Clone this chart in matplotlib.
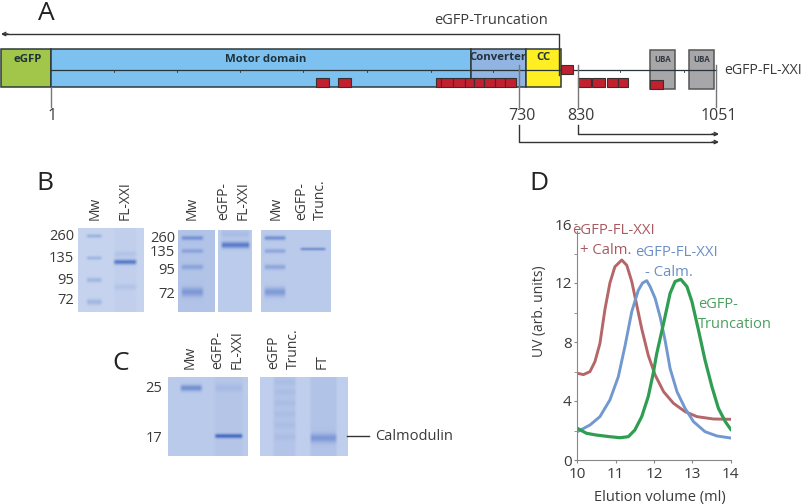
import matplotlib
matplotlib.use('Agg')
import matplotlib.pyplot as plt
from matplotlib.patches import Rectangle
import numpy as np

plt.rcParams['font.family'] = ['Open Sans', 'DejaVu Sans']

# Panel D
red_x = [10, 10.16, 10.33, 10.46, 10.59, 10.72, 10.85, 10.98, 11.16, 11.29, 11.42, 11.55, 11.68, 11.85, 12.03, 12.25, 12.51, 12.81, 13.12, 13.55, 14]
red_y = [5.88, 5.79, 5.99, 6.67, 7.9, 10.2, 12.0, 13.1, 13.56, 13.2, 12.1, 10.5, 8.9, 7.1, 5.76, 4.63, 3.84, 3.28, 2.94, 2.78, 2.76]
blue_x = [10, 10.33, 10.59, 10.85, 11.07, 11.24, 11.42, 11.59, 11.7, 11.81, 11.9, 12.03, 12.16, 12.29, 12.42, 12.6, 12.81, 13.03, 13.33, 13.64, 14]
blue_y = [1.92, 2.37, 2.94, 4.07, 5.65, 7.68, 10.06, 11.5, 12.0, 12.16, 11.75, 10.96, 9.7, 8.1, 6.2, 4.63, 3.5, 2.6, 1.92, 1.63, 1.49]
green_x = [10, 10.24, 10.5, 10.85, 11.11, 11.33, 11.5, 11.68, 11.85, 11.98, 12.07, 12.25, 12.42, 12.55, 12.7, 12.86, 12.99, 13.16, 13.33, 13.51, 13.68, 13.86, 14]
green_y = [2.15, 1.81, 1.69, 1.58, 1.51, 1.58, 2.03, 2.94, 4.3, 5.88, 7.2, 9.27, 11.3, 12.1, 12.25, 11.75, 10.73, 8.8, 6.78, 4.97, 3.5, 2.6, 2.08]
d_xticks = [10, 11, 12, 13, 14]
d_yticks = [0, 4, 8, 12, 16]
d_yminor = [2, 6, 10, 14]

# Panel A, in pixels
domain_names = ['eGFP', 'Motor domain', 'Converter', 'CC']
domain_edges = [1, 51, 471, 526, 561]
domain_colors = ['#a2c64a', '#7dc1f0', '#92b4e2', '#ffee22']
red_low = [316, 338, 436, 441, 453, 465, 474, 484, 495, 505, 578, 592, 607, 618]
red_low_w = [13, 13, 5, 12, 12, 9, 10, 11, 10, 11, 13, 13, 11, 10]
seq_ticks = [114, 177, 240, 303, 367, 431, 493, 620, 684]
residues = ['1', '730', '830', '1051']
residue_x = [51, 519, 578, 716]
uba_x = [650, 689]

# gels
mw_b1 = [236, 258, 280, 302]
mw_b2 = [238, 251, 267, 292]
mw_labels_b = ['260', '135', '95', '72']
b_label_y1 = [236, 258, 280, 300]
b_label_y2 = [238, 253, 270, 294]
mw_labels_c = ['25', '17']
c_label_y = [388, 438]

fig = plt.figure(figsize=(8.05, 5.04), dpi=100)
ax = fig.add_axes([0, 0, 1, 1])
ax.set_xlim(0, 805)
ax.set_ylim(504, 0)
ax.axis('off')

txt = '#3a3a3a'
edge = '#2e3a3a'

# A
for i, name in enumerate(domain_names):
    ax.add_patch(Rectangle((domain_edges[i], 48.5), domain_edges[i + 1] - domain_edges[i], 38.5,
                           fc=domain_colors[i], ec=edge, lw=1.1, zorder=2))
ax.text(28, 59, 'eGFP', fontsize=8.2, fontweight='bold', color='#20323a', ha='center', va='center', zorder=5)
ax.text(266, 59, 'Motor domain', fontsize=8.2, fontweight='bold', color='#20323a', ha='center', va='center', zorder=5)
ax.text(498, 57, 'Converter', fontsize=8.2, fontweight='bold', color='#20323a', ha='center', va='center', zorder=5)
ax.text(543, 57, 'CC', fontsize=8.2, fontweight='bold', color='#20323a', ha='center', va='center', zorder=5)

for x in uba_x:
    ax.add_patch(Rectangle((x, 50), 24.5, 39, fc='#a7a7a9', ec='#555555', lw=1.1, zorder=2))
    ax.text(x + 13, 59, 'UBA', fontsize=5.8, fontweight='bold', color='#303840', ha='center', va='center', zorder=5)

ax.plot([51, 716], [69.5, 69.5], color='#27343a', lw=0.9, zorder=3)
for x in seq_ticks:
    ax.plot([x, x], [69.5, 72], color='#27343a', lw=0.6, zorder=3)

for x, w in zip(red_low, red_low_w):
    ax.add_patch(Rectangle((x, 78), w, 9, fc='#c1202f', ec='#3a3030', lw=0.8, zorder=4))
ax.add_patch(Rectangle((561, 65), 12, 9, fc='#c1202f', ec='#3a3030', lw=0.8, zorder=4))
ax.add_patch(Rectangle((650, 80), 13, 9, fc='#c1202f', ec='#3a3030', lw=0.8, zorder=4))

for r, x in zip(residues, residue_x):
    ax.plot([x, x], [87 if r == '1' else 65, 107], color='#777777', lw=1, zorder=4)
    ax.text(x + (1 if r == '1' else 3), 116, r, fontsize=11.5, color=txt, ha='center', va='center')

# arrows
arrow = dict(arrowstyle='->', color='#333333', lw=1, shrinkA=0, shrinkB=0, mutation_scale=6)
ax.plot([559, 559, 3], [75, 34, 34], color='#333333', lw=1)
ax.annotate('', xy=(1, 34), xytext=(8, 34), arrowprops=arrow)
ax.plot([519, 519, 716], [125, 142, 142], color='#333333', lw=1)
ax.annotate('', xy=(719, 142), xytext=(712, 142), arrowprops=arrow)
ax.plot([578, 578, 716], [125, 134, 134], color='#333333', lw=1)
ax.annotate('', xy=(719, 134), xytext=(712, 134), arrowprops=arrow)
ax.text(491, 21, 'eGFP-Truncation', fontsize=10.5, color=txt, ha='center', va='center')
ax.text(724, 70, 'eGFP-FL-XXI', fontsize=10.2, color=txt, ha='left', va='center')

for letter, x, y in [('A', 46, 13), ('B', 45, 184), ('C', 121, 363), ('D', 539, 184)]:
    ax.text(x, y, letter, fontsize=19, color='#222222', ha='center', va='center')


def gel(box, bands, tints=(), base=0.30):
    # box = left, right, top, bottom; bands = (left, right, y, half height, strength)
    left, right, top, bottom = box
    xx, yy = np.meshgrid(np.arange(left, right) + 0.5, np.arange(top, bottom) + 0.5)
    val = np.full(xx.shape, base)
    for l, r, amount in tints:
        val += amount * np.clip((xx - l) / 3, 0, 1) * np.clip((r - xx) / 3, 0, 1)
    for l, r, y, h, s in bands:
        edge_x = np.clip((xx - l) / 3.5, 0, 1) * np.clip((r - xx) / 3.5, 0, 1)
        val += s * edge_x * np.exp(-((yy - y) / h) ** 2)
    val = np.clip(val, 0, 1)
    light = np.array([0.90, 0.93, 0.98])
    dark = np.array([0.22, 0.38, 0.74])
    img = light + (dark - light) * val[..., None]
    ax.imshow(img, extent=(left, right, bottom, top), aspect='auto', interpolation='bilinear', zorder=1)


# B
gel((78, 143, 228, 312), [(85, 103, 236, 2, 0.22), (85, 103, 258, 2, 0.2), (85, 103, 280, 2.5, 0.2), (85, 103, 302, 3, 0.2),
                          (112, 137, 262, 2.5, 0.58), (112, 137, 287, 3, 0.08), (112, 137, 254, 3, 0.08)],
    tints=[(112, 137, 0.03)], base=0.18)
gel((178, 214, 230, 312), [(180, 204, 238, 2.2, 0.33), (180, 204, 251, 2.2, 0.22), (180, 204, 267, 2.6, 0.22), (180, 204, 292, 4.5, 0.3)], base=0.3)
gel((218, 252, 230, 312), [(220, 251, 245, 3.2, 0.55), (220, 251, 234, 4, 0.1)], base=0.24)
gel((261, 331, 230, 312), [(263, 287, 238, 2.2, 0.38), (263, 287, 251, 2.2, 0.24), (263, 287, 267, 2.6, 0.24), (263, 287, 292, 4.5, 0.33),
                           (299, 327, 249, 1.6, 0.38)], base=0.25)

# C
gel((168, 247, 377, 456), [(179, 203, 388, 3.2, 0.4), (213, 243, 388, 4, 0.08), (213, 243, 436, 2.2, 0.62)], tints=[(213, 243, 0.03)], base=0.25)
gel((260, 348, 377, 456), [(273, 297, y, 3, 0.05) for y in (382, 392, 403, 414, 425, 437)] + [(309, 338, 438, 4.5, 0.3)],
    tints=[(272, 297, 0.07), (309, 338, 0.08)], base=0.22)
ax.plot([347, 369], [436, 436], color='#333333', lw=1)
ax.text(375, 437, 'Calmodulin', fontsize=10.5, color=txt, ha='left', va='center')

lane_labels = [(95, 220, 'Mw'), (125, 220, 'FL-XXI'), (192, 220, 'Mw'), (224, 220, 'eGFP-'), (243, 220, 'FL-XXI'),
               (276, 220, 'Mw'), (302, 220, 'eGFP-'), (320, 220, 'Trunc.'),
               (190, 369, 'Mw'), (218, 369, 'eGFP-'), (237, 369, 'FL-XXI'), (274, 369, 'eGFP'), (293, 369, 'Trunc.'), (322, 369, 'FT')]
for x, y, s in lane_labels:
    ax.text(x, y, s, fontsize=10, color=txt, rotation=90, ha='center', va='bottom')
for s, y in zip(mw_labels_b, b_label_y1):
    ax.text(74, y, s, fontsize=10.5, color=txt, ha='right', va='center')
for s, y in zip(mw_labels_b, b_label_y2):
    ax.text(175, y, s, fontsize=10.5, color=txt, ha='right', va='center')
for s, y in zip(mw_labels_c, c_label_y):
    ax.text(162, y, s, fontsize=10.5, color=txt, ha='right', va='center')

# D
w, h = 805, 504
axd = fig.add_axes([577.3 / w, 1 - 460 / h, 153.4 / w, 236 / h])
axd.patch.set_alpha(0)
axd.plot(red_x, red_y, color='#b56668', lw=2.1, solid_joinstyle='round')
axd.plot(blue_x, blue_y, color='#7198cf', lw=2.1, solid_joinstyle='round')
axd.plot(green_x, green_y, color='#2f9e52', lw=2.3, solid_joinstyle='round')
axd.set_xlim(10, 14)
axd.set_ylim(0, 16)
axd.set_xticks(d_xticks)
axd.set_yticks(d_yticks)
axd.set_yticks(d_yminor, minor=True)
axd.spines['top'].set_visible(False)
axd.spines['right'].set_visible(False)
axd.spines['left'].set_color('#888888')
axd.spines['bottom'].set_color('#888888')
axd.spines['left'].set_bounds(0, 15.5)
axd.tick_params(colors=txt, labelsize=11, length=2, color='#888888', pad=2)
axd.tick_params(axis='x', pad=3)
axd.tick_params(axis='y', which='minor', length=2, color='#888888')
axd.set_xlabel('Elution volume (ml)', fontsize=10.5, color=txt)
axd.xaxis.set_label_coords(0.536, -0.125)
axd.set_ylabel('UV (arb. units)', fontsize=10, color=txt)
axd.yaxis.set_label_coords(-0.2, 0.63)

ax.text(613, 231, 'eGFP-FL-XXI', fontsize=10.7, color='#a85a60', ha='center', va='center', zorder=9)
ax.text(606, 250, '+ Calm.', fontsize=10.7, color='#a85a60', ha='center', va='center')
ax.text(676, 252, 'eGFP-FL-XXI', fontsize=10.7, color='#6b8fc6', ha='center', va='center')
ax.text(669, 272, '- Calm.', fontsize=10.7, color='#6b8fc6', ha='center', va='center')
ax.text(698, 305, 'eGFP-', fontsize=10.5, color='#4d9e5f', ha='left', va='center')
ax.text(698, 324, 'Truncation', fontsize=10.5, color='#4d9e5f', ha='left', va='center')

fig.savefig('out.png', dpi=100)
